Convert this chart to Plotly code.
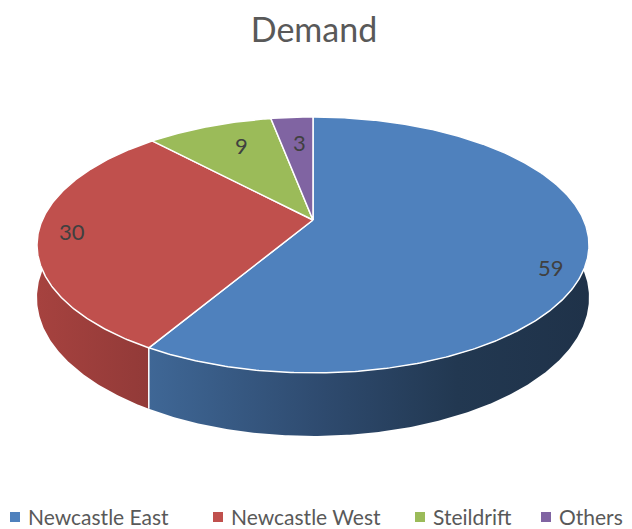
import math
import plotly.graph_objects as go

# ---- data ----
categories = ["Newcastle East", "Newcastle West", "Steildrift", "Others"]
values = [59, 30, 9, 3]
title_text = "Demand"

# ---- style ----
top_colors = ["#4f81bd", "#c0504d", "#9bbb59", "#8064a2"]
side_scales = [
    [[0, "#3f6796"], [0.4, "#2e4a6e"], [0.7, "#223851"], [1, "#1f3249"]],
    [[0, "#a6423f"], [1, "#923a38"]],
    [[0, "#7c9646"], [1, "#6a803c"]],
    [[0, "#664f82"], [1, "#57446f"]],
]
label_r = [0.89, 0.88, 0.74, 0.72]
label_shift = [(-6, 18), (0, 0), (8, -2), (2, 0)]
legend_sym_x = [15, 218, 420, 546]   # legend symbol centres (screen px)
LEGEND_Y = 516
FONT = "Lato"

# projection of the tilted pie (screen pixel space)
CX, CY = 313.0, 220.0   # pie centre on screen
A, B = 270.7, 123.1     # horizontal / vertical radii factors
K = 0.195               # perspective factor
H = 50.7                # thickness
W, HT = 632, 529
OFF = 8                 # page offset of the plot inside the window


def proj(theta, r=1.0):
    t = math.radians(theta)
    u = r * math.sin(t)
    v = -r * math.cos(t)
    w = 1 - K * v
    return CX + A * u / w, CY + B * v / w


def depth(theta):
    t = math.radians(theta)
    v = -math.cos(t)
    return H / (1 - K * v)


def arc(a0, a1, step=0.5):
    n = max(2, int(abs(a1 - a0) / step) + 1)
    return [a0 + (a1 - a0) * i / (n - 1) for i in range(n)]


total = sum(values)
bounds = []
acc = 0.0
for v in values:
    a0 = acc / total * 360
    acc += v
    a1 = acc / total * 360
    bounds.append((a0, a1))

fig = go.Figure()

# ---- sides (front half only) ----
for i, (a0, a1) in enumerate(bounds):
    s0, s1 = max(a0, 90), min(a1, 270)
    if s1 <= s0:
        continue
    ts = arc(s0, s1)
    top = [proj(t) for t in ts]
    bot = [(x, y + depth(t)) for (x, y), t in zip(top, ts)]
    pts = top + bot[::-1]
    fig.add_trace(go.Scatter(
        x=[p[0] for p in pts] + [pts[0][0]],
        y=[p[1] for p in pts] + [pts[0][1]],
        mode="lines", fill="toself",
        line=dict(width=0, color="rgba(0,0,0,0)"),
        fillgradient=dict(type="horizontal", colorscale=side_scales[i]),
        hoverinfo="skip", showlegend=False))

# white vertical edges on the side at slice boundaries
for a0, a1 in bounds:
    if 90 < a0 < 270:
        x, y = proj(a0)
        fig.add_trace(go.Scatter(
            x=[x, x], y=[y, y + depth(a0)], mode="lines",
            line=dict(color="white", width=1.5),
            hoverinfo="skip", showlegend=False))

# ---- top faces ----
for i, (a0, a1) in enumerate(bounds):
    ts = arc(a0, a1)
    pts = [(CX, CY)] + [proj(t) for t in ts] + [(CX, CY)]
    fig.add_trace(go.Scatter(
        x=[p[0] for p in pts], y=[p[1] for p in pts],
        mode="lines", fill="toself", fillcolor=top_colors[i],
        line=dict(color="white", width=1.5), name=categories[i],
        hoverinfo="skip", showlegend=False))

# ---- data labels ----
for i, (a0, a1) in enumerate(bounds):
    x, y = proj((a0 + a1) / 2, label_r[i])
    dx, dy = label_shift[i]
    fig.add_annotation(x=x + dx, y=y + dy, text=str(values[i]),
                       showarrow=False,
                       font=dict(family=FONT, size=22, color="#404040"))

# ---- legend (bottom row) ----
fig.add_trace(go.Scatter(
    x=legend_sym_x, y=[LEGEND_Y + 1] * len(categories), mode="markers",
    marker=dict(symbol="square", size=10, color=top_colors),
    hoverinfo="skip", showlegend=False, cliponaxis=False))
for i, name in enumerate(categories):
    fig.add_annotation(x=legend_sym_x[i] + 11, y=LEGEND_Y, text=name,
                       xanchor="left", yanchor="middle", showarrow=False,
                       font=dict(family=FONT, size=21, color="#595959"))

fig.update_layout(
    width=W, height=HT,
    margin=dict(l=0, r=0, t=0, b=0),
    paper_bgcolor="white", plot_bgcolor="white",
    xaxis=dict(range=[OFF, W + OFF], visible=False, fixedrange=True),
    yaxis=dict(range=[HT + OFF, OFF], visible=False, fixedrange=True),
    title=dict(text=title_text, x=(314 - OFF) / W, xanchor="center",
               y=1 - (30 - OFF) / HT, yanchor="middle",
               font=dict(family=FONT, size=34, color="#595959")),
    showlegend=False,
)

fig.write_html("out.html")
